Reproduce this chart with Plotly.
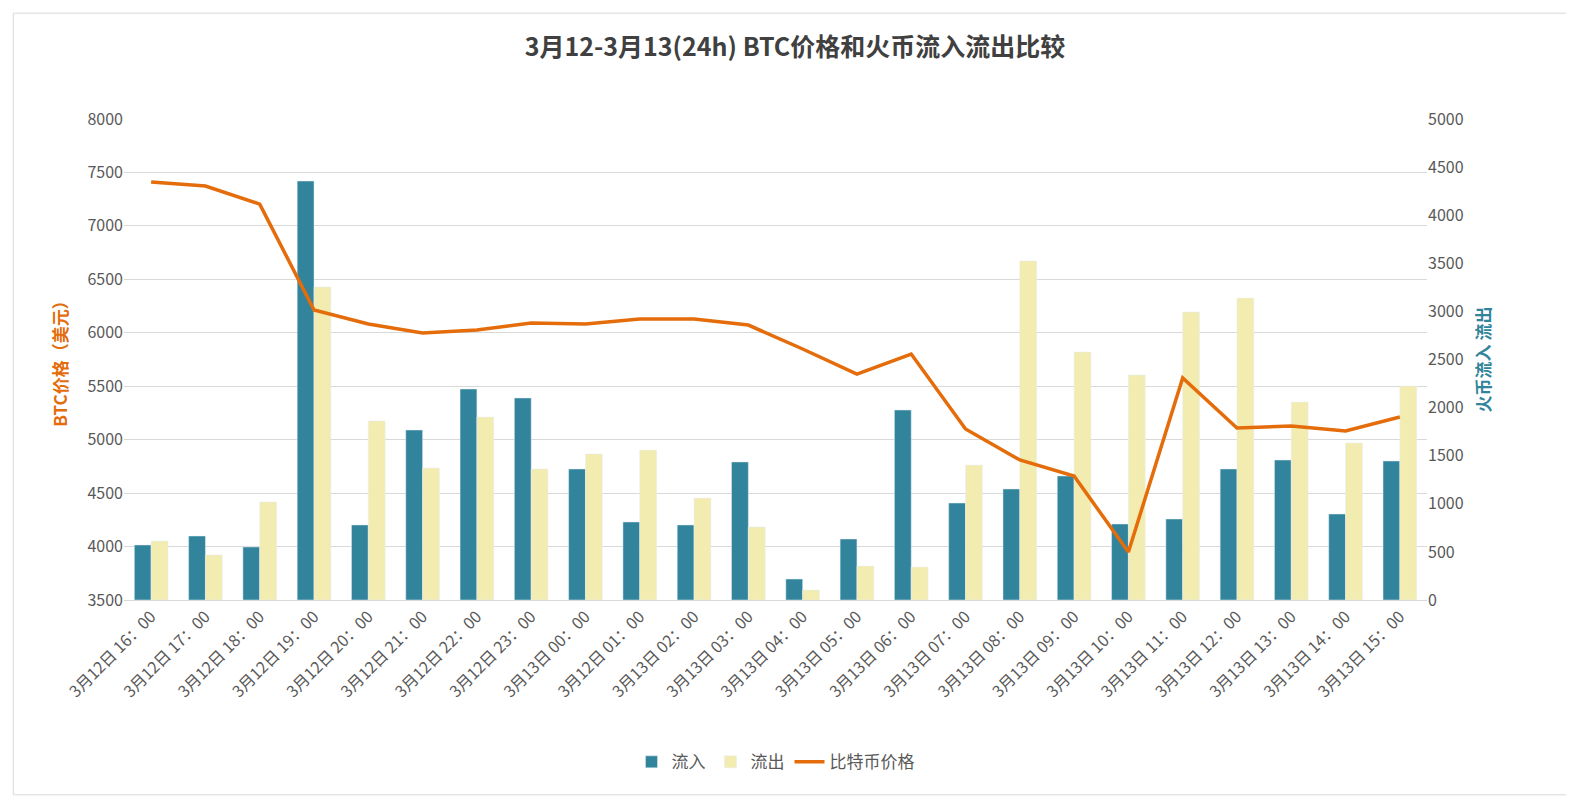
import plotly.graph_objects as go

hours = ["3月12日 16：00", "3月12日 17：00", "3月12日 18：00", "3月12日 19：00", "3月12日 20：00",
         "3月12日 21：00", "3月12日 22：00", "3月12日 23：00", "3月13日 00：00", "3月12日 01：00",
         "3月13日 02：00", "3月13日 03：00", "3月13日 04：00", "3月13日 05：00", "3月13日 06：00",
         "3月13日 07：00", "3月13日 08：00", "3月13日 09：00", "3月13日 10：00", "3月13日 11：00",
         "3月13日 12：00", "3月13日 13：00", "3月13日 14：00", "3月13日 15：00"]
inflow = [572, 665, 551, 4355, 780, 1767, 2193, 2100, 1362, 811, 780, 1435,
          218, 634, 1975, 1008, 1154, 1289, 790, 842, 1362, 1455, 894, 1445]
outflow = [613, 468, 1019, 3254, 1861, 1372, 1902, 1362, 1518, 1559, 1060, 759,
           104, 353, 343, 1403, 3524, 2578, 2339, 2994, 3139, 2058, 1632, 2225]
price = [7410, 7373, 7204, 6213, 6082, 5998, 6026, 6091, 6082, 6129, 6129, 6072,
         5848, 5614, 5801, 5100, 4810, 4660, 3949, 5577, 5109, 5128, 5081, 5212]

fig = go.Figure()
# bars on the primary axis (drawn right), price line on the overlaying axis so it sits on top
fig.add_bar(x=hours, y=inflow, name="流入", marker_color="#31849b")
fig.add_bar(x=hours, y=outflow, name="流出", marker_color="#f3ecb0")
fig.add_scatter(x=hours, y=price, name="比特币价格", mode="lines", yaxis="y2",
                line=dict(color="#e46c0a", width=3.5))

fig.update_layout(
    width=1574, height=797,
    font=dict(family="Noto Sans CJK SC", size=16, color="#595959"),
    title=dict(text="<b>3月12-3月13(24h) BTC价格和火币流入流出比较</b>", x=0.5, y=0.962,
               font=dict(size=25, color="#404040")),
    plot_bgcolor="white", paper_bgcolor="white",
    margin=dict(l=116, r=155, t=111, b=205, autoexpand=False),
    bargap=0.38, bargroupgap=0,
    xaxis=dict(tickangle=-45, showgrid=False, linecolor="#d9d9d9", ticks="", automargin=False),
    yaxis=dict(range=[0, 5000], dtick=500, side="right", showgrid=False, zeroline=False,
               automargin=False,
               title=dict(text="<b>火币流入 流出</b>", font=dict(color="#31849b", size=17))),
    yaxis2=dict(range=[3500, 8000], dtick=500, overlaying="y", side="left", showgrid=True,
                gridcolor="#d9d9d9", zeroline=False, automargin=False,
                title=dict(text="<b>BTC价格（美元）</b>", font=dict(color="#e46c0a", size=17))),
    legend=dict(orientation="h", x=0.5, xanchor="center", y=-0.3, yanchor="top",
                font=dict(size=17), traceorder="normal"),
    shapes=[dict(type="rect", xref="paper", yref="paper", x0=-0.085, x1=1.112, y0=-0.405, y1=1.22,
                 line=dict(color="#d9d9d9", width=1))],
)
fig.write_html("out.html")
